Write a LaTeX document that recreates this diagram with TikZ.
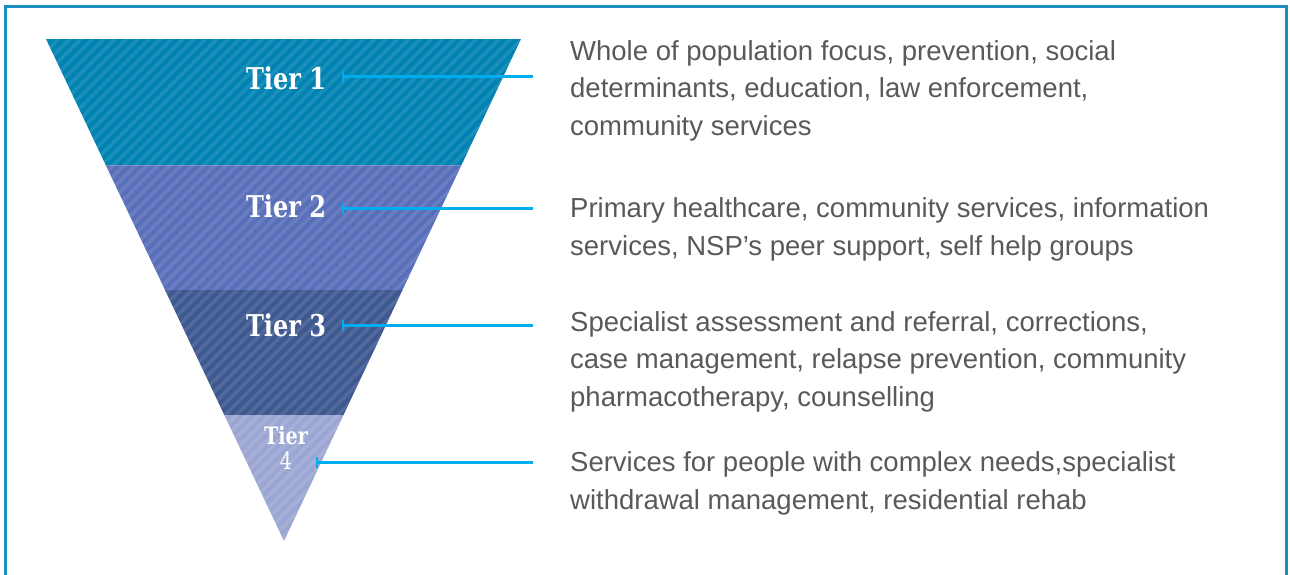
\documentclass[tikz,border=0pt]{standalone}
\usepackage{fontspec}
\setmainfont{Liberation Sans}
\newfontfamily\tierfont[FakeStretch=0.8]{DejaVu Serif}
\usetikzlibrary{arrows.meta}
\definecolor{frameblue}{HTML}{1B8EC0}
\definecolor{pointerblue}{HTML}{00AEEF}
\definecolor{textgray}{HTML}{595959}
\definecolor{tierone}{HTML}{0083B3}
\definecolor{tiertwo}{HTML}{5A6FBA}
\definecolor{tierthree}{HTML}{3E5890}
\definecolor{tierfour}{HTML}{9BA6D3}

\begin{document}
\begin{tikzpicture}[x=1pt,y=-1pt,
      tier label/.style={font=\tierfont\bfseries\fontsize{30}{30}\selectfont,text=white,inner sep=0pt},
      desc/.style={font=\fontsize{27.5}{37.5}\selectfont,text=textgray,align=left,anchor=base west,inner sep=0pt},
      pointer/.style={draw=pointerblue,line width=3pt,{Bar[width=11pt,line width=2pt]}-,shorten >=37pt},
      stripe/.style={white,opacity=0.1,line width=3.5pt}]
    \useasboundingbox (0,0) rectangle (1290,574);
    \draw[frameblue,line width=3pt] (5,580) -- (5,6) -- (1286,6) -- (1286,580);

    % funnel
    \fill[tierone] (46,39) -- (521,39) -- (461.5,165) -- (105.7,165) -- cycle;
    \fill[tiertwo] (105.7,165) -- (461.5,165) -- (402.5,290) -- (165,290) -- cycle;
    \fill[tierthree] (165,290) -- (402.5,290) -- (343.5,415) -- (224.3,415) -- cycle;
    \fill[tierfour] (224.3,415) -- (343.5,415) -- (284,541) -- cycle;
    \begin{scope}
      \clip (46,39) -- (521,39) -- (284,541) -- cycle;
      \foreach \x in {-470,-458.7,...,530}
        \draw[stripe] (\x,545) -- (\x+510,35);
      \draw[white,opacity=0.2,line width=1pt] (40,165) -- (530,165);
    \end{scope}

    \node[tier label] (T1) at (286,78) {Tier 1};
    \node[tier label] (T2) at (286,206) {Tier 2};
    \node[tier label] (T3) at (286,325) {Tier 3};
    \node[tier label,align=center,font=\tierfont\bfseries\fontsize{24}{25}\selectfont] (T4) at (286,448) {Tier\\\mdseries 4};

    % texts: the base anchor sits on the last line
    \node[desc] (D1) at (570,135) {Whole of population focus, prevention, social\\determinants, education, law enforcement,\\community services};
    \node[desc] (D2) at (570,255) {Primary healthcare, community services, information\\services, NSP’s peer support, self help groups};
    \node[desc] (D3) at (570,406) {Specialist assessment and referral, corrections,\\case management, relapse prevention, community\\pharmacotherapy, counselling};
    \node[desc] (D4) at (570,509) {Services for people with complex needs,specialist\\withdrawal management, residential rehab};

    \coordinate (P1) at (342,76);
    \coordinate (P2) at (342,208);
    \coordinate (P3) at (342,325);
    \coordinate (P4) at (316,462);
    \draw[pointer] (P1) -- (P1 -| D1.west);
    \draw[pointer] (P2) -- (P2 -| D2.west);
    \draw[pointer] (P3) -- (P3 -| D3.west);
    \draw[pointer] (P4) -- (P4 -| D4.west);
\end{tikzpicture}
\end{document}
